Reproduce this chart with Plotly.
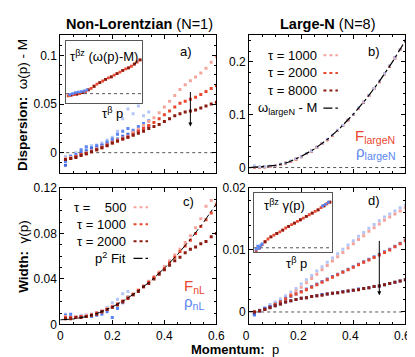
import plotly.graph_objects as go

# momentum grid shared by the scatter series
P = [0.02, 0.04, 0.06, 0.08, 0.10, 0.12, 0.14, 0.16, 0.18, 0.20,
     0.22, 0.24, 0.26, 0.28, 0.30, 0.32, 0.34, 0.36, 0.38, 0.40,
     0.42, 0.44, 0.46, 0.48, 0.50, 0.52, 0.54, 0.56, 0.58, 0.60]

# a) dispersion, non-Lorentzian
disp_F_500 = [-0.006, -0.005, -0.004, -0.002, 0.000, 0.002, 0.004, 0.006, 0.008, 0.011,
              0.013, 0.015, 0.017, 0.021, 0.024, 0.028, 0.032, 0.036, 0.041, 0.047,
              0.053, 0.059, 0.065, 0.070, 0.074, 0.078, 0.082, 0.087, 0.093, 0.099]
disp_F_1000 = [-0.007, -0.006, -0.004, -0.002, -0.001, 0.001, 0.003, 0.005, 0.008, 0.010,
               0.012, 0.014, 0.016, 0.019, 0.022, 0.025, 0.028, 0.031, 0.035, 0.039,
               0.043, 0.047, 0.051, 0.053, 0.055, 0.057, 0.060, 0.063, 0.066, 0.069]
disp_F_2000 = [-0.007, -0.006, -0.005, -0.003, -0.001, 0.001, 0.003, 0.005, 0.007, 0.010,
               0.012, 0.014, 0.016, 0.018, 0.020, 0.022, 0.025, 0.027, 0.029, 0.032,
               0.035, 0.038, 0.040, 0.042, 0.043, 0.044, 0.046, 0.048, 0.050, 0.052]
P_RHO_A = [0.02, 0.04, 0.06, 0.08, 0.10, 0.12, 0.14, 0.16, 0.18,
           0.20, 0.22, 0.24, 0.26, 0.28, 0.30, 0.32, 0.34]
disp_rho_500 = [-0.004, -0.003, 0.000, 0.002, 0.005, 0.007, 0.008, 0.010, 0.013,
                0.016, 0.022, 0.035, 0.045, 0.040, 0.048, 0.038, 0.042]
disp_rho_1000 = [-0.009, -0.004, -0.002, 0.003, 0.006, 0.005, 0.007, 0.008, 0.011,
                 0.014, 0.019, 0.022, 0.025, 0.023, 0.027, 0.030, 0.033]
disp_rho_2000 = [-0.013, -0.006, -0.004, 0.000, 0.002, 0.004, 0.005, 0.007, 0.009,
                 0.012, 0.014, 0.017, 0.019, 0.021, 0.023, 0.025, 0.027]

# b) dispersion, large-N
dispN_F_1000 = [0.000, 0.000, 0.001, 0.002, 0.004, 0.006, 0.009, 0.012, 0.016, 0.021,
                0.026, 0.032, 0.038, 0.045, 0.053, 0.061, 0.070, 0.080, 0.090, 0.101,
                0.112, 0.124, 0.136, 0.149, 0.163, 0.177, 0.192, 0.207, 0.223, 0.240]
dispN_F_2000 = [0.000, 0.001, 0.001, 0.002, 0.004, 0.006, 0.009, 0.012, 0.016, 0.021,
                0.026, 0.032, 0.039, 0.046, 0.053, 0.061, 0.070, 0.080, 0.090, 0.101,
                0.112, 0.124, 0.136, 0.150, 0.163, 0.177, 0.192, 0.208, 0.224, 0.241]
dispN_F_8000 = [0.000, 0.000, 0.001, 0.002, 0.003, 0.006, 0.008, 0.012, 0.016, 0.020,
                0.026, 0.031, 0.038, 0.045, 0.052, 0.061, 0.070, 0.079, 0.090, 0.100,
                0.112, 0.123, 0.136, 0.149, 0.162, 0.177, 0.191, 0.207, 0.223, 0.239]
dispN_rho = [0.004, 0.002, 0.002, 0.003, 0.004, 0.007, 0.009, 0.013, 0.017, 0.021,
             0.027, 0.032, 0.039, 0.046, 0.054, 0.062, 0.071, 0.080, 0.091, 0.101,
             0.113, 0.124, 0.137, 0.150, 0.164, 0.178, 0.193, 0.208, 0.224, 0.241]
P_CURVE = [0.0, 0.05, 0.10, 0.15, 0.20, 0.25, 0.30, 0.35, 0.40, 0.45, 0.50, 0.55, 0.60]
omega_largeN = [0.000, 0.0015, 0.004, 0.010, 0.021, 0.035, 0.053, 0.075, 0.101, 0.130, 0.163, 0.1995, 0.240]

# c) width, non-Lorentzian
width_F_500 = [0.007, 0.006, 0.007, 0.007, 0.008, 0.009, 0.010, 0.012, 0.014, 0.016,
               0.018, 0.021, 0.024, 0.027, 0.030, 0.034, 0.038, 0.042, 0.046, 0.051,
               0.056, 0.061, 0.066, 0.072, 0.078, 0.085, 0.093, 0.104, 0.109, 0.106]
width_F_1000 = [0.006, 0.006, 0.006, 0.007, 0.007, 0.008, 0.010, 0.011, 0.013, 0.015,
                0.018, 0.020, 0.023, 0.026, 0.030, 0.033, 0.037, 0.041, 0.045, 0.049,
                0.054, 0.059, 0.064, 0.069, 0.074, 0.080, 0.086, 0.092, 0.098, 0.105]
width_F_2000 = [0.005, 0.005, 0.006, 0.006, 0.007, 0.008, 0.009, 0.011, 0.013, 0.015,
                0.017, 0.020, 0.023, 0.026, 0.029, 0.033, 0.036, 0.040, 0.044, 0.048,
                0.052, 0.056, 0.059, 0.063, 0.066, 0.068, 0.071, 0.073, 0.077, 0.080]
P_RHO_C = [0.02, 0.04, 0.06, 0.08, 0.10, 0.12, 0.14, 0.16, 0.18, 0.20, 0.22, 0.24, 0.26]
width_rho_500 = [0.009, 0.008, 0.007, 0.008, 0.007, 0.009, 0.010, 0.012, 0.015, 0.019, 0.022, 0.027, 0.029]
width_rho_1000 = [0.008, 0.009, 0.006, 0.007, 0.008, 0.007, 0.008, 0.009, 0.011, 0.006, 0.014, 0.019, 0.024]
p2_fit = [0.004, 0.0047, 0.0068, 0.0104, 0.0153, 0.0217, 0.0295, 0.0387, 0.0493, 0.0613, 0.0748, 0.0896, 0.106]

# d) width, large-N
widthN_F_1000 = [0.0000, 0.0002, 0.0005, 0.0009, 0.0013, 0.0017, 0.0022, 0.0028, 0.0034, 0.0040,
                 0.0047, 0.0054, 0.0061, 0.0068, 0.0075, 0.0082, 0.0089, 0.0096, 0.0103, 0.0110,
                 0.0117, 0.0123, 0.0130, 0.0136, 0.0142, 0.0148, 0.0153, 0.0158, 0.0163, 0.0168]
widthN_rho_1000 = [-0.0004, 0.0003, 0.0007, 0.0012, 0.0016, 0.0021, 0.0026, 0.0032, 0.0038, 0.0045,
                   0.0052, 0.0059, 0.0066, 0.0073, 0.0080, 0.0087, 0.0094, 0.0101, 0.0108, 0.0115,
                   0.0122, 0.0128, 0.0135, 0.0141, 0.0147, 0.0153, 0.0158, 0.0163, 0.0168, 0.0172]
widthN_F_2000 = [0.0000, 0.0002, 0.0005, 0.0008, 0.0012, 0.0016, 0.0021, 0.0026, 0.0029, 0.0032,
                 0.0036, 0.0040, 0.0044, 0.0048, 0.0052, 0.0056, 0.0060, 0.0064, 0.0068, 0.0072,
                 0.0076, 0.0080, 0.0084, 0.0088, 0.0092, 0.0096, 0.0100, 0.0105, 0.0110, 0.0115]
widthN_rho_2000 = [-0.0005, 0.0001, 0.0006, 0.0009, 0.0013, 0.0017, 0.0022, 0.0025, 0.0029, 0.0033,
                   0.0037, 0.0041, 0.0045, 0.0049, 0.0053, 0.0057, 0.0061, 0.0065, 0.0069, 0.0073,
                   0.0077, 0.0081, 0.0085, 0.0089, 0.0093, 0.0097, 0.0101, 0.0106, 0.0111, 0.0116]
widthN_F_8000 = [0.0000, 0.0002, 0.0004, 0.0007, 0.0010, 0.0013, 0.0016, 0.0018, 0.0020, 0.0022,
                 0.0023, 0.0025, 0.0026, 0.0027, 0.0029, 0.0030, 0.0031, 0.0032, 0.0034, 0.0035,
                 0.0036, 0.0038, 0.0039, 0.0041, 0.0042, 0.0044, 0.0046, 0.0048, 0.0050, 0.0052]
widthN_rho_8000 = [-0.0003, 0.0002, 0.0005, 0.0008, 0.0010, 0.0013, 0.0016, 0.0018, 0.0020, 0.0022,
                   0.0023, 0.0025, 0.0026, 0.0028, 0.0029, 0.0030, 0.0031, 0.0033, 0.0034, 0.0035,
                   0.0037, 0.0038, 0.0039, 0.0041, 0.0042, 0.0044, 0.0046, 0.0048, 0.0050, 0.0052]

# insets: scaled collapse, tau^beta p on x
INSET_X = [0.00, 0.04, 0.08, 0.12, 0.16, 0.20, 0.24, 0.28, 0.32, 0.36, 0.40, 0.44, 0.48,
           0.52, 0.56, 0.60, 0.64, 0.68, 0.72, 0.76, 0.80, 0.84, 0.88, 0.92, 0.96, 1.00]
inset_a_F = [-0.04, -0.03, -0.02, -0.01, 0.00, 0.02, 0.04, 0.07, 0.10, 0.14, 0.18, 0.21, 0.24,
             0.27, 0.30, 0.32, 0.35, 0.38, 0.41, 0.44, 0.47, 0.49, 0.52, 0.56, 0.60, 0.64]
INSET_A_RHO_X = [0.02, 0.06, 0.10, 0.14, 0.18, 0.22, 0.26]
inset_a_rho = [-0.02, 0.00, 0.02, 0.03, 0.04, 0.05, 0.07]
inset_d_F = [-0.05, 0.00, 0.06, 0.11, 0.16, 0.20, 0.23, 0.26, 0.29, 0.32, 0.36, 0.39, 0.42,
             0.45, 0.48, 0.51, 0.54, 0.57, 0.60, 0.63, 0.66, 0.69, 0.73, 0.76, 0.80, 0.83]
INSET_D_RHO_X = [0.00, 0.02, 0.04, 0.06, 0.08, 0.90, 0.94, 0.98]
inset_d_rho = [-0.03, 0.03, -0.01, 0.04, 0.07, 0.76, 0.79, 0.83]

FONT = "Liberation Sans, Arial, sans-serif"
PINK, RED, DARK = "#f4a49c", "#e9472f", "#8a1b10"
LBLUE, BLUE, DBLUE = "#b3c6f7", "#5a86f2", "#4468dc"

W, H = 415, 357


def fx(px):
    return px / W


def fy(px):
    return 1 - px / H


fig = go.Figure()


def dots(x, y, color, ax, size=3.0):
    fig.add_trace(go.Scatter(
        x=x, y=y, mode="markers", xaxis="x" + ax, yaxis="y" + ax,
        marker=dict(symbol="square", size=size, color=color, line_width=0),
        showlegend=False, hoverinfo="skip"))


# a)
dots(P_RHO_A, disp_rho_500, LBLUE, "")
dots(P_RHO_A, disp_rho_1000, BLUE, "")
dots(P_RHO_A, disp_rho_2000, DBLUE, "")
dots(P, disp_F_500, PINK, "")
dots(P, disp_F_1000, RED, "")
dots(P, disp_F_2000, DARK, "")
# b)
dots(P, dispN_F_8000, DARK, "2", 2.6)
dots(P, dispN_F_2000, RED, "2", 2.6)
dots(P, dispN_F_1000, PINK, "2", 2.6)
dots(P, dispN_rho, LBLUE, "2", 2.6)
fig.add_trace(go.Scatter(x=P_CURVE, y=omega_largeN, mode="lines", xaxis="x2", yaxis="y2",
                         line=dict(color="black", width=1.2, dash="dashdot"),
                         showlegend=False, hoverinfo="skip"))
# c)
dots(P_RHO_C, width_rho_500, LBLUE, "3")
dots(P_RHO_C, width_rho_1000, BLUE, "3")
dots(P, width_F_500, PINK, "3")
dots(P, width_F_1000, RED, "3")
dots(P, width_F_2000, DARK, "3")
fig.add_trace(go.Scatter(x=P_CURVE, y=p2_fit, mode="lines", xaxis="x3", yaxis="y3",
                         line=dict(color="black", width=1, dash="dashdot"),
                         showlegend=False, hoverinfo="skip"))
# d)
dots(P, widthN_rho_1000, LBLUE, "4")
dots(P, widthN_F_1000, PINK, "4")
dots(P, widthN_rho_2000, BLUE, "4")
dots(P, widthN_F_2000, RED, "4")
dots(P, widthN_rho_8000, DBLUE, "4")
dots(P, widthN_F_8000, DARK, "4")
# insets
dots(INSET_X, inset_a_F, RED, "5", 2.8)
dots(INSET_X[1::2], inset_a_F[1::2], DARK, "5", 2.8)
dots(INSET_A_RHO_X, inset_a_rho, BLUE, "5", 2.8)
dots(INSET_X, inset_d_F, RED, "6", 2.8)
dots(INSET_X[1::2], inset_d_F[1::2], DARK, "6", 2.8)
dots(INSET_D_RHO_X, inset_d_rho, BLUE, "6", 2.8)

tickfont = dict(family=FONT, size=12, color="black")


def main_x(dom, labels):
    return dict(domain=[fx(dom[0]), fx(dom[1])], range=[0, 0.6], tickvals=[0, 0.2, 0.4, 0.6],
                showticklabels=labels, ticks="inside", ticklen=4, tickcolor="black",
                minor=dict(ticks="inside", ticklen=2, dtick=0.05, tickcolor="black"),
                showline=True, linecolor="black", linewidth=1, mirror="allticks",
                showgrid=False, zeroline=False, tickfont=tickfont)


def main_y(dom, rng, dtick, minor, anchor):
    return dict(domain=[fy(dom[1]), fy(dom[0])], range=rng, dtick=dtick, tick0=0, anchor=anchor,
                ticks="inside", ticklen=4, tickcolor="black",
                minor=dict(ticks="inside", ticklen=2, dtick=minor, tickcolor="black"),
                showline=True, linecolor="black", linewidth=1, mirror="allticks",
                showgrid=False, zeroline=False, tickfont=tickfont)


def inset_axis(dom, rng, anchor, is_x):
    d = [fx(dom[0]), fx(dom[1])] if is_x else [fy(dom[1]), fy(dom[0])]
    return dict(domain=d, range=rng, anchor=anchor, showticklabels=False, ticks="",
                showline=True, linecolor="#555555", linewidth=1, mirror=True,
                showgrid=False, zeroline=False)


fig.update_layout(
    width=W, height=H, margin=dict(l=0, r=0, t=0, b=0),
    paper_bgcolor="white", plot_bgcolor="white",
    font=dict(family=FONT, size=12, color="black"),
    xaxis=dict(main_x((48, 210), False), anchor="y"),
    yaxis=main_y((21, 164), [-0.0205, 0.121], 0.05, 0.01, "x"),
    xaxis2=dict(main_x((244, 406), False), anchor="y2"),
    yaxis2=main_y((21, 164), [-0.0095, 0.2505], 0.1, 0.02, "x2"),
    xaxis3=dict(main_x((48, 210), True), anchor="y3"),
    yaxis3=main_y((180, 322), [0, 0.12], 0.04, 0.01, "x3"),
    xaxis4=dict(main_x((244, 406), True), anchor="y4", ticklabelshift=-3),
    yaxis4=main_y((180, 322), [-0.002, 0.02], 0.01, 0.002, "x4"),
    xaxis5=inset_axis((54, 133), [-0.03, 1.03], "y5", True),
    yaxis5=inset_axis((27, 92), [-0.185, 1.0], "x5", False),
    xaxis6=inset_axis((249, 330), [-0.03, 1.03], "y6", True),
    yaxis6=inset_axis((185, 247), [-0.082, 1.0], "x6", False),
)

# dotted zero reference lines
for xr, yr, x0, x1 in [("x", "y", 0, 0.6), ("x2", "y2", 0, 0.6), ("x4", "y4", 0, 0.6),
                       ("x5", "y5", -0.03, 1.03), ("x6", "y6", -0.03, 1.03)]:
    fig.add_shape(type="line", xref=xr, yref=yr, x0=x0, x1=x1, y0=0, y1=0, layer="below",
                  line=dict(color="#555555", width=1, dash="dot"))


def note(text, x, y, size=12, xanchor="center", angle=0, color="black"):
    fig.add_annotation(text=text, x=fx(x), y=fy(y), xref="paper", yref="paper",
                       showarrow=False, xanchor=xanchor, yanchor="middle", textangle=angle,
                       font=dict(family=FONT, size=size, color=color))


note("<b>Non-Lorentzian</b> (N=1)", 130, 9, 14.5)
note("<b>Large-N</b> (N=8)", 326, 9, 14.5)
note("<b>Dispersion:</b>  ω(p) - M", 9, 94, 13.5, angle=-90)
note("<b>Width:</b>  γ(p)", 9, 251, 13.5, angle=-90)
note("<b>Momentum:</b>  p", 229, 348, 13)
note("a)", 178, 38, 13)
note("b)", 373, 38, 13)
note("c)", 181, 194, 13)
note("d)", 374, 193, 13)
note("τ<sup>βz</sup> (ω(p)-M)", 93, 43, 13)
note("τ<sup>βz</sup> γ(p)", 281, 198, 13)
note("τ<sup>β</sup> p", 102, 102, 13)
note("τ<sup>β</sup> p", 293, 258, 13)
note("F<sub>largeN</sub>", 375, 126, 15, color=RED)
note("ρ<sub>largeN</sub>", 375, 143, 15, color=BLUE)
note("F<sub>nL</sub>", 187, 283, 15, color=RED)
note("ρ<sub>nL</sub>", 187, 299, 15, color=BLUE)

# legends drawn as text + dotted sample
legend_b = [("τ = 1000", PINK, "dot"), ("τ = 2000", RED, "dot"), ("τ = 8000", DARK, "dot"),
            ("ω<sub>largeN</sub> - M", "black", "dashdot")]
for i, (txt, col, dash) in enumerate(legend_b):
    yy = 42 + i * 18.3
    note(txt, 316, yy, 13, xanchor="right")
    fig.add_shape(type="line", xref="paper", yref="paper", x0=fx(321), x1=fx(336),
                  y0=fy(yy), y1=fy(yy),
                  line=dict(color=col, width=2 if col != "black" else 1.2, dash=dash))

legend_c = [("τ =\u00a0\u00a0\u00a0 500", PINK, "dot"), ("τ = 1000", RED, "dot"),
            ("τ = 2000", DARK, "dot"), ("p<sup>2</sup> Fit", "black", "dashdot")]
for i, (txt, col, dash) in enumerate(legend_c):
    yy = 200 + i * 17.8
    note(txt, 118, yy, 13, xanchor="right")
    fig.add_shape(type="line", xref="paper", yref="paper", x0=fx(124), x1=fx(139),
                  y0=fy(yy), y1=fy(yy),
                  line=dict(color=col, width=2 if col != "black" else 1.2, dash=dash))

# arrows showing increasing tau
fig.add_annotation(x=0.5, y=0.027, ax=0.5, ay=0.064, xref="x", yref="y", axref="x", ayref="y",
                   showarrow=True, arrowhead=2, arrowsize=0.8, arrowwidth=1, arrowcolor="black", text="")
fig.add_annotation(x=0.5, y=0.0027, ax=0.5, ay=0.0117, xref="x4", yref="y4", axref="x4", ayref="y4",
                   showarrow=True, arrowhead=2, arrowsize=0.8, arrowwidth=1, arrowcolor="black", text="")

fig.write_html("out.html")
